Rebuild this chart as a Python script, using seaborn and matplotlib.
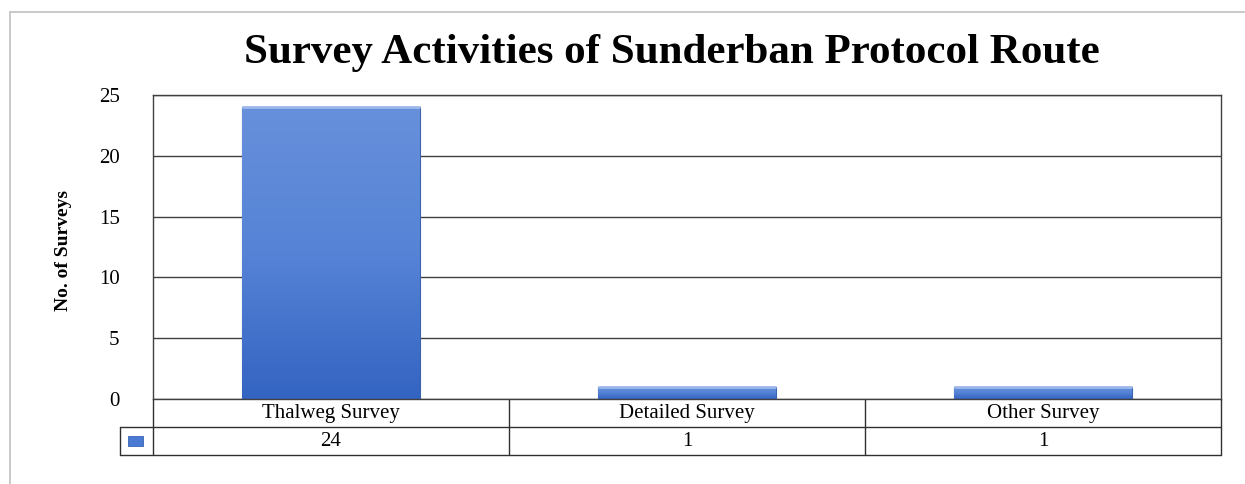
import matplotlib.pyplot as plt
import matplotlib.lines as mlines
import matplotlib.patches as mpatches
import numpy as np
import pandas as pd
import seaborn as sns

categories = ["Thalweg Survey", "Detailed Survey", "Other Survey"]
surveys = [24, 1, 1]

sns.set_theme(style="white")
plt.rcParams["font.family"] = ["Liberation Serif", "DejaVu Serif"]
plt.rcParams["text.color"] = "black"
plt.rcParams["axes.labelcolor"] = "black"
plt.rcParams["ytick.color"] = "black"

df = pd.DataFrame({"category": categories, "surveys": surveys})

fig = plt.figure(figsize=(12.45, 4.84), dpi=100)
ax = fig.add_axes([0.1229, 0.1756, 0.8578, 0.6281])

sns.barplot(data=df, x="category", y="surveys", color="#4f7fd6", width=0.5,
            edgecolor="#3a63b0", linewidth=0.8, ax=ax)

# gradient fill on each bar
grad = np.linspace(0, 1, 256).reshape(-1, 1)
cmap = sns.blend_palette(["#3464c2", "#5683d6", "#6790db"], as_cmap=True)
for p in ax.patches:
    x0, y0 = p.get_x(), p.get_y()
    w, h = p.get_width(), p.get_height()
    im = ax.imshow(grad, extent=[x0, x0 + w, y0, y0 + h], origin="lower",
                   cmap=cmap, aspect="auto", zorder=p.get_zorder() + 0.1)
    im.set_clip_path(p)
    # light top edge
    ax.plot([x0, x0 + w], [y0 + h, y0 + h], color="#9db8ea", lw=2,
            zorder=p.get_zorder() + 0.2, solid_capstyle="butt")

ax.set_xlim(-0.5, len(categories) - 0.5)
ax.set_ylim(0, 25)
ax.set_yticks(range(0, 26, 5))
ax.yaxis.grid(True, color="#404040", linewidth=1)
ax.set_axisbelow(True)
ax.tick_params(axis="y", length=0, pad=24, labelsize=15, labelcolor="black")
ax.tick_params(axis="x", length=0, labelbottom=False)
for s in ax.spines.values():
    s.set_color("#404040")
    s.set_linewidth(1)
ax.set_xlabel("")
ax.set_ylabel("No. of Surveys", fontsize=14, fontweight="bold")
ax.yaxis.set_label_coords(-0.076, 0.49)

fig.text(0.54, 0.89, "Survey Activities of Sunderban Protocol Route", fontsize=31,
         fontweight="bold", ha="center", va="center")

# data table beneath the chart
row_h = 0.0921
tc = "#303030"
bt = ax.get_xaxis_transform()
legend_left = -0.031  # axes fraction of legend cell
for i, (cat, val) in enumerate(zip(categories, surveys)):
    ax.text(i, -row_h / 2, cat, transform=bt, ha="center", va="center",
            fontsize=15, clip_on=False)
    ax.text(i, -1.5 * row_h, str(val), transform=bt, ha="center", va="center",
            fontsize=15, clip_on=False)
# horizontal lines
ax.add_line(mlines.Line2D([legend_left, 1], [-row_h, -row_h], transform=ax.transAxes,
                          color=tc, lw=1, clip_on=False))
ax.add_line(mlines.Line2D([legend_left, 1], [-2 * row_h, -2 * row_h],
                          transform=ax.transAxes, color=tc, lw=1, clip_on=False))
# vertical lines
for xv in [-0.5, 0.5, 1.5, len(categories) - 0.5]:
    ax.add_line(mlines.Line2D([xv, xv], [0, -2 * row_h], transform=bt,
                              color=tc, lw=1, clip_on=False))
ax.add_line(mlines.Line2D([legend_left, legend_left], [-row_h, -2 * row_h],
                          transform=ax.transAxes, color=tc, lw=1, clip_on=False))
# legend key
ax.add_patch(mpatches.Rectangle((legend_left + 0.0075, -1.5 * row_h - 0.016), 0.0145, 0.032,
                                transform=ax.transAxes, facecolor="#4a7ad4",
                                edgecolor="#3a63b0", lw=0.6, clip_on=False))

# outer chart border (top and left)
fig.add_artist(mlines.Line2D([0.008, 1.0], [0.975, 0.975], color="#c0c0c0", lw=1.2))
fig.add_artist(mlines.Line2D([0.008, 0.008], [0.0, 0.975], color="#c0c0c0", lw=1.2))

fig.savefig("out.png", dpi=100)
